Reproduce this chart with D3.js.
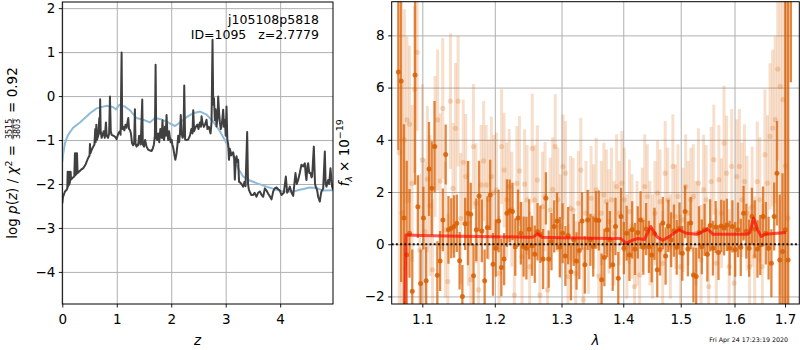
<!DOCTYPE html>
<html>
<head>
<meta charset="utf-8">
<script src="https://cdn.jsdelivr.net/npm/d3@7"></script>
<style>
  body { margin: 0; background: #fff; }
  text { font-family: "DejaVu Sans", sans-serif; fill: #000; white-space: pre; }
</style>
</head>
<body>
<svg id="chart"></svg>
<script>
const width = 800;
const height = 350;

// ---- p(z) panel data ----
const zTicks = [0, 1, 2, 3, 4];
const pzTicks = [-4, -3, -2, -1, 0, 1, 2];
// [z, log p(z)] for the dark curve
const pzCurve = [
  [0.000,-2.44],[0.012,-2.30],[0.049,-2.17],[0.080,-2.13],[0.092,-2.10],[0.098,-1.72],[0.104,-2.06],[0.122,-1.72],
  [0.128,-2.02],[0.141,-1.95],[0.153,-1.72],[0.160,-1.90],[0.190,-1.86],[0.220,-1.83],[0.232,-1.30],[0.240,-1.80],
  [0.251,-1.30],[0.258,-1.78],[0.270,-1.30],[0.281,-1.75],[0.306,-1.72],[0.340,-1.68],[0.385,-1.64],[0.430,-1.55],
  [0.470,-1.42],[0.500,-1.35],[0.508,-1.09],[0.518,-1.30],[0.540,-1.22],[0.569,-1.15],[0.590,-1.10],[0.605,-0.75],
  [0.612,-1.05],[0.625,-0.65],[0.635,-1.00],[0.660,-0.90],[0.680,-0.50],[0.688,-0.85],[0.695,-0.07],[0.705,-0.80],
  [0.722,-0.95],[0.740,-0.88],[0.760,-0.80],[0.780,-0.95],[0.801,-0.60],[0.815,-0.90],[0.840,-0.95],[0.860,-0.85],
  [0.875,-0.01],[0.890,-0.80],[0.905,-0.88],[0.935,-0.90],[0.966,-0.92],[0.997,-0.98],[1.028,-0.85],[1.055,-0.80],
  [1.070,-0.88],[1.089,0.99],[1.100,-0.75],[1.120,-0.70],[1.140,-0.78],[1.160,-0.65],[1.180,-0.72],[1.211,-0.50],
  [1.225,-0.75],[1.242,-0.77],[1.260,-0.85],[1.280,-1.07],[1.300,-1.12],[1.320,-1.05],[1.333,-0.30],[1.345,-1.10],
  [1.364,-1.15],[1.380,-1.10],[1.394,-1.12],[1.410,-0.90],[1.430,-1.05],[1.440,-1.10],[1.468,-0.08],[1.478,-1.10],
  [1.500,-1.15],[1.520,-1.00],[1.547,-1.15],[1.578,-1.22],[1.610,-1.24],[1.639,-1.25],[1.660,-1.20],[1.682,-1.10],
  [1.700,-0.90],[1.713,0.71],[1.725,-0.95],[1.743,-1.00],[1.760,-0.85],[1.780,-1.05],[1.800,-0.75],[1.823,-0.95],
  [1.840,-0.55],[1.853,-0.95],[1.870,-1.00],[1.884,-0.70],[1.900,-0.90],[1.914,-0.43],[1.930,-0.85],[1.945,-1.00],
  [1.960,-0.80],[1.976,-0.95],[1.990,-1.05],[2.006,-0.99],[2.020,-1.10],[2.040,-1.20],[2.060,-1.35],[2.075,-1.45],
  [2.098,-1.30],[2.115,-1.10],[2.128,-0.90],[2.145,-1.05],[2.160,-0.85],[2.175,-0.43],[2.190,-0.85],[2.208,-0.95],
  [2.225,-0.90],[2.239,0.24],[2.255,-0.99],[2.281,-1.00],[2.310,-0.99],[2.343,-0.90],[2.370,-0.75],[2.390,-0.85],
  [2.404,-0.32],[2.420,-0.80],[2.450,-0.70],[2.480,-0.65],[2.500,-0.75],[2.526,-0.60],[2.545,-0.70],[2.557,-0.46],
  [2.575,-0.62],[2.600,-0.70],[2.620,-0.65],[2.648,-0.54],[2.665,-0.75],[2.690,-0.70],[2.722,-0.85],[2.740,-0.60],
  [2.758,1.28],[2.771,-0.20],[2.785,-0.05],[2.801,-0.55],[2.815,-0.30],[2.832,-0.69],[2.850,-0.50],[2.862,-0.01],
  [2.880,-0.40],[2.893,-0.60],[2.910,-0.75],[2.924,-0.69],[2.940,-0.50],[2.954,-0.31],[2.970,-0.70],[2.985,-0.55],
  [3.000,-0.90],[3.015,-0.24],[3.030,-0.99],[3.046,-1.10],[3.060,-1.45],[3.076,-1.20],[3.100,-1.35],[3.120,-1.30],
  [3.138,-1.28],[3.155,-1.40],[3.168,-1.90],[3.185,-1.45],[3.199,-1.37],[3.215,-1.50],[3.229,-1.45],[3.245,-1.95],
  [3.260,-1.96],[3.290,-2.00],[3.321,-2.06],[3.345,-1.95],[3.364,-2.05],[3.394,-0.82],[3.410,-2.00],[3.425,-2.13],
  [3.450,-2.20],[3.470,-2.25],[3.505,-2.25],[3.530,-2.20],[3.566,-2.29],[3.595,-2.20],[3.627,-2.17],[3.660,-2.25],
  [3.688,-2.29],[3.719,-2.10],[3.750,-2.15],[3.780,-2.22],[3.810,-2.28],[3.841,-2.35],[3.872,-2.17],[3.900,-2.10],
  [3.933,-2.08],[3.964,-2.12],[3.994,-2.15],[4.024,-2.25],[4.067,-2.20],[4.104,-1.83],[4.128,-2.20],[4.150,-2.15],
  [4.177,-2.06],[4.210,-2.20],[4.239,-2.27],[4.281,-1.75],[4.305,-2.00],[4.330,-1.91],[4.360,-1.75],[4.391,-1.56],
  [4.420,-1.60],[4.453,-1.53],[4.470,-1.80],[4.483,-1.91],[4.500,-1.60],[4.514,-1.53],[4.535,-1.75],[4.557,-1.75],
  [4.575,-1.85],[4.587,-1.83],[4.618,-1.15],[4.640,-2.00],[4.654,-2.06],[4.680,-2.15],[4.697,-2.29],[4.728,-2.40],
  [4.745,-2.25],[4.758,-2.17],[4.790,-2.10],[4.820,-1.26],[4.835,-2.00],[4.850,-2.06],[4.881,-1.91],[4.900,-2.00],
  [4.924,-1.64],[4.940,-1.90],[4.954,-2.06],[4.972,-2.13]
];
// [z, log p(z)] for the smooth blue curve
const priorCurve = [
  [0,-1.50],[0.018,-1.30],[0.049,-1.07],[0.100,-0.90],[0.141,-0.82],[0.200,-0.72],[0.324,-0.60],[0.440,-0.47],
  [0.508,-0.39],[0.630,-0.28],[0.816,-0.22],[0.930,-0.25],[0.985,-0.30],[1.046,-0.20],[1.150,-0.24],[1.240,-0.32],
  [1.364,-0.50],[1.486,-0.54],[1.609,-0.60],[1.700,-0.50],[1.792,-0.52],[1.914,-0.58],[2.067,-0.68],[2.160,-0.60],
  [2.281,-0.48],[2.404,-0.39],[2.526,-0.35],[2.648,-0.42],[2.771,-0.58],[2.893,-0.80],[3.015,-1.07],[3.138,-1.37],
  [3.229,-1.65],[3.321,-1.83],[3.443,-1.92],[3.566,-1.98],[3.749,-2.06],[3.933,-2.13],[4.055,-2.17],[4.239,-2.17],
  [4.361,-2.13],[4.544,-2.08],[4.667,-2.09],[4.789,-2.15],[4.972,-2.14]
];

// ---- spectrum panel data ----
const lamTicks = [1.1, 1.2, 1.3, 1.4, 1.5, 1.6, 1.7];
const fluxTicks = [-2, 0, 2, 4, 6, 8];
// wavelength span of each sampled spectrum (evenly spaced bins in log lambda)
const specLamRange = [1.0688, 1.712];
// [flux, error] per bin, main spectrum
const specPts = [
  [6.6,3.0],[6.25,7.7],[1.0,3.6],[-0.4,3.6],[0.42,1.7],[-1.8,1.6],[6.48,4.2],[1.44,1.2],[-1.5,1.3],[1.0,1.2],
  [-1.4,1.3],[2.88,1.8],[2.14,1.8],[3.74,1.75],[-1.19,1.3],[-0.64,1.15],[0.93,1.2],[3.44,1.15],[0.55,1.3],[0.61,1.15],
  [0.68,1.2],[0.80,1.1],[-0.63,1.1],[-2.0,1.2],[0.78,1.0],[1.19,2.0],[1.15,1.2],[-1.21,1.2],[0.55,1.2],[1.85,1.35],
  [0.51,1.2],[-1.4,1.2],[0.64,1.2],[1.89,1.35],[-0.77,1.2],[-0.15,1.1],[0.89,1.2],[-0.89,1.1],[-0.57,1.0],[1.19,1.3],
  [1.28,1.2],[1.25,1.1],[-0.11,1.1],[1.0,1.1],[0.42,1.2],[-0.09,1.15],[-0.15,1.2],[0.57,1.15],[-0.06,1.15],[-0.38,1.1],
  [0.48,1.1],[0.38,1.1],[-0.57,1.15],[1.76,1.0],[-0.57,1.1],[0.1,1.1],[0.68,1.0],[0.89,1.1],[-0.11,1.15],[0.42,1.15],
  [-0.45,1.15],[0.33,1.1],[-1.05,1.1],[0.17,1.0],[-0.64,1.1],[-0.24,1.1],[0.89,1.1],[-0.79,1.1],[0.93,1.15],[0.17,1.0],
  [-0.09,1.15],[0.93,1.1],[0.91,1.15],[-1.36,1.0],[-0.51,1.1],[0.55,1.05],[0.17,1.1],[-0.79,1.0],[0.68,1.1],[-1.30,1.0],
  [1.06,1.1],[-0.15,1.0],[0.42,1.05],[-0.41,1.0],[0.55,1.1],[-0.18,1.0],[0.45,1.0],[0.93,1.1],[-0.12,1.05],[0.58,1.0],
  [-0.10,1.0],[-0.41,1.05],[0.40,1.0],[-0.98,1.05],[-0.20,1.0],[0.81,1.0],[-0.45,1.1],[0.70,1.0],[0.17,1.05],[0.52,1.0],
  [-0.12,1.05],[0.60,1.0],[-0.35,1.05],[1.25,1.0],[-0.18,1.05],[0.81,1.0],[-1.18,1.05],[-1.24,1.1],[0.45,1.0],[-0.10,1.05],
  [0.55,1.0],[-0.38,1.05],[0.72,1.0],[-0.15,1.05],[0.66,1.0],[-0.32,1.05],[0.70,1.0],[0.62,1.05],[0.74,1.0],[-0.15,1.05],
  [0.68,1.0],[-0.20,1.05],[0.55,1.05],[-0.12,1.1],[1.19,1.05],[0.50,1.05],[-0.15,1.1],[1.06,1.1],[0.58,1.1],[-0.18,1.1],
  [-0.03,1.15],[1.06,1.15],[0.42,1.2],[-0.15,1.2],[-0.73,1.3],[1.06,1.3],[2.72,2.0],[-0.60,2.5],[-0.28,3.0],[0.55,12],
  [-0.6,12],[9.5,3.3]
];
const fadedLamRange = [1.070, 1.706];
// [flux, error] per bin, second (faded) spectrum
const fadedPts = [
  [3.5,6],[1.2,5],[4.0,5],
  [4.76,3.2],[4.6,3.0],[2.33,3.0],[5.93,3.2],[7.35,3.0],[-0.22,2.9],[3.23,2.9],[0.48,2.8],[2.49,2.8],[1.48,2.7],
  [-0.98,2.7],[3.74,2.7],[4.76,2.7],[2.42,2.6],[5.2,2.7],[0.55,2.6],[-1.43,2.6],[5.48,2.6],[2.14,2.5],[4.44,2.5],
  [5.48,2.5],[0.99,2.5],[3.14,2.4],[2.59,2.4],[0.80,2.4],[-1.36,2.4],[3.74,2.4],[1.57,2.3],[-1.75,2.3],[2.27,2.3],
  [3.19,2.3],[2.27,2.3],[1.70,2.3],[2.59,2.3],[1.98,2.2],[2.08,2.2],[-1.12,2.2],[3.74,2.2],[2.84,2.2],[1.70,2.2],
  [2.21,2.2],[1.34,2.2],[-1.95,2.2],[2.33,2.2],[2.81,2.1],[-0.47,2.1],[2.30,2.1],[1.70,2.1],[-0.86,2.1],[3.67,2.1],
  [1.70,2.1],[2.46,2.1],[-1.95,2.1],[1.44,2.1],[1.82,2.1],[-1.75,2.0],[1.31,2.0],[2.10,2.0],[3.74,2.0],[1.70,2.0],
  [0.68,2.0],[2.97,2.0],[2.72,2.0],[-1.24,2.0],[1.38,2.0],[1.31,2.0],[-1.12,2.0],[1.57,2.0],[2.84,2.0],[-2.13,2.0],
  [1.19,2.0],[0.10,2.0],[1.76,2.0],[1.06,2.0],[2.08,2.0],[-1.22,2.0],[1.19,2.0],[1.89,2.0],[1.63,2.0],[0.87,2.0],
  [1.70,2.0],[0.42,2.0],[2.21,2.0],[1.19,2.0],[2.34,2.0],[1.70,2.0],[-0.09,2.0],[1.25,2.0],[0.68,2.0],[-1.62,2.0],
  [0.42,2.0],[-1.18,2.0],[0.93,2.0],[2.21,2.0],[1.83,2.0],[0.42,2.0],[-0.09,2.0],[1.19,2.0],[1.96,2.0],[1.63,2.0],
  [-0.73,2.0],[2.72,2.0],[1.70,2.0],[-0.09,2.0],[2.98,2.0],[1.06,2.0],[1.83,2.0],[-0.86,2.0],[0.93,2.0],[2.21,2.0],
  [1.19,2.0],[1.70,2.0],[1.83,2.0],[0.42,2.0],[2.34,2.1],[-0.60,2.1],[2.09,2.1],[1.70,2.1],[-1.62,2.1],[2.40,2.1],
  [3.24,2.1],[-0.73,2.1],[2.47,2.1],[1.19,2.1],[3.87,2.2],[2.72,2.2],[-0.86,2.2],[2.98,2.2],[-1.49,2.2],[2.59,2.2],
  [2.98,2.2],[1.70,2.2],[2.40,2.2],[1.19,2.2],[-0.86,2.3],[1.44,2.3],[-0.47,2.3],[2.40,2.3],[1.70,2.4],[-0.86,2.4],
  [3.43,2.5],[2.34,2.6],[4.13,2.8],[4.45,3.0],[4.77,3.2],[6.71,3.5],[6.05,8],[5.54,8],[3.0,10],[1.0,10]
];
const modelLam = [1.0770,1.0785,1.10,1.15,1.20,1.25,1.257,1.263,1.27,1.30,1.35,1.396,1.405,1.415,1.425,1.436,
  1.447,1.458,1.468,1.48,1.497,1.51,1.53,1.549,1.56,1.60,1.625,1.630,1.637,1.645,1.652,1.66,1.702];
const modelFlux = [-3.0,0.35,0.33,0.31,0.29,0.27,0.28,0.40,0.27,0.25,0.23,0.22,0.03,0.15,0.22,0.18,
  0.68,0.28,0.15,0.30,0.55,0.42,0.38,0.58,0.38,0.38,0.38,0.45,1.0,0.55,0.30,0.38,0.45];

const fileName = "j105108p5818";
const fitInfo = "ID=1095\u00a0\u00a0\u00a0z=2.7779";
const stamp = "Fri Apr 24 17:23:19 2020";

const svg = d3.select("#chart").attr("width", width).attr("height", height);
const defs = svg.append("defs");
const FS = 13.5;

function styleAxis(g) {
  g.select(".domain").remove();
  g.selectAll(".tick line").attr("stroke", "#000").attr("stroke-width", 0.9);
  g.selectAll(".tick text").attr("font-size", FS).attr("font-family", "DejaVu Sans").attr("fill", "#000");
}
function gridAxis(g) {
  g.select(".domain").remove();
  g.selectAll(".tick line").attr("stroke", "#b0b0b0").attr("stroke-width", 1);
}

// ================= left panel: p(z) =================
const L = { x0: 62.3, x1: 333, y0: 2, y1: 304 };
const xZ = d3.scaleLinear().domain([0, 4.97]).range([L.x0, L.x1]);
const yP = d3.scaleLinear().domain([-4.73, 2.14]).range([L.y1, L.y0]);

defs.append("clipPath").attr("id", "clipL")
  .append("rect").attr("x", L.x0).attr("y", L.y0).attr("width", L.x1 - L.x0).attr("height", L.y1 - L.y0);

const left = svg.append("g");
left.append("g").attr("transform", `translate(0,${L.y1})`)
  .call(d3.axisBottom(xZ).tickValues(zTicks).tickSize(-(L.y1 - L.y0)).tickFormat(""))
  .call(gridAxis);
left.append("g").attr("transform", `translate(${L.x0},0)`)
  .call(d3.axisLeft(yP).tickValues(pzTicks).tickSize(-(L.x1 - L.x0)).tickFormat(""))
  .call(gridAxis);

const pzLine = d3.line().x((d) => xZ(d[0])).y((d) => yP(d[1]));
const curves = left.append("g").attr("clip-path", "url(#clipL)");
curves.append("path").datum(priorCurve).attr("d", pzLine)
  .attr("fill", "none").attr("stroke", "#8fbbd9").attr("stroke-width", 2);
curves.append("path").datum(pzCurve).attr("d", pzLine)
  .attr("fill", "none").attr("stroke", "#404040").attr("stroke-width", 2).attr("stroke-linejoin", "round");

left.append("g").attr("transform", `translate(0,${L.y1})`)
  .call(d3.axisBottom(xZ).tickValues(zTicks).tickSize(3.5).tickPadding(6.5).tickFormat(d3.format("d")))
  .call(styleAxis);
left.append("g").attr("transform", `translate(${L.x0},0)`)
  .call(d3.axisLeft(yP).tickValues(pzTicks).tickSize(3.5).tickPadding(3.5).tickFormat(d3.format("d")))
  .call(styleAxis);
left.append("rect").attr("x", L.x0).attr("y", L.y0).attr("width", L.x1 - L.x0).attr("height", L.y1 - L.y0)
  .attr("fill", "none").attr("stroke", "#000").attr("stroke-width", 1);

left.append("text").attr("x", 319).attr("y", 24).attr("text-anchor", "end").attr("font-size", 12.5).text(fileName);
left.append("text").attr("x", 319).attr("y", 39).attr("text-anchor", "end").attr("font-size", 12.5).text(fitInfo);

left.append("text").attr("x", (L.x0 + L.x1) / 2).attr("y", 345).attr("text-anchor", "middle")
  .attr("font-size", FS).attr("font-style", "italic").text("z");

// y label with the chi2 fraction
const yl = left.append("g");
const t1 = yl.append("text").attr("font-size", FS);
t1.append("tspan").text("log\u00a0");
t1.append("tspan").attr("font-style", "italic").text("p");
t1.append("tspan").text("(");
t1.append("tspan").attr("font-style", "italic").text("z");
t1.append("tspan").text(")\u00a0/\u00a0");
t1.append("tspan").attr("font-style", "italic").text("\u03c7");
t1.append("tspan").attr("font-size", 9.5).attr("dy", -5.5).text("2");
t1.append("tspan").attr("dy", 5.5).text("\u00a0=\u00a0");
const w1 = t1.node().getComputedTextLength() + 1;
const num = yl.append("text").attr("font-size", 8).attr("text-anchor", "middle").attr("y", -5.3).text("3515");
const den = yl.append("text").attr("font-size", 8).attr("text-anchor", "middle").attr("y", 2.6).text("3803");
const fw = Math.max(num.node().getComputedTextLength(), den.node().getComputedTextLength()) + 1;
num.attr("x", w1 + fw / 2);
den.attr("x", w1 + fw / 2);
yl.append("line").attr("x1", w1).attr("x2", w1 + fw).attr("y1", -4.1).attr("y2", -4.1)
  .attr("stroke", "#000").attr("stroke-width", 0.6);
const t2 = yl.append("text").attr("font-size", FS).attr("x", w1 + fw + 1).text("\u00a0=\u00a00.92");
const total = w1 + fw + 1 + t2.node().getComputedTextLength();
yl.attr("transform", `translate(17,${(L.y0 + L.y1) / 2}) rotate(-90) translate(${-total / 2},0)`);

// ================= right panel: spectrum =================
const R = { x0: 391.7, x1: 799.3, y0: 1.7, y1: 304 };
const xL = d3.scaleLog().domain([1.0603, 1.7294]).range([R.x0, R.x1]);
const yF = d3.scaleLinear().domain([-2.29, 9.29]).range([R.y1, R.y0]);

defs.append("clipPath").attr("id", "clipR")
  .append("rect").attr("x", R.x0).attr("y", R.y0).attr("width", R.x1 - R.x0).attr("height", R.y1 - R.y0);

const right = svg.append("g");
right.append("g").attr("transform", `translate(0,${R.y1})`)
  .call(d3.axisBottom(xL).tickValues(lamTicks).tickSize(-(R.y1 - R.y0)).tickFormat(""))
  .call(gridAxis);
right.append("g").attr("transform", `translate(${R.x0},0)`)
  .call(d3.axisLeft(yF).tickValues(fluxTicks).tickSize(-(R.x1 - R.x0)).tickFormat(""))
  .call(gridAxis);

// bins are evenly spaced in log wavelength
function binLam(range, n) {
  const step = Math.log(range[1] / range[0]) / (n - 1);
  return (i) => range[0] * Math.exp(i * step);
}
const fadedLam = binLam(fadedLamRange, fadedPts.length);
const specLam = binLam(specLamRange, specPts.length);
const fadedData = fadedPts.map((d, i) => ({ lam: fadedLam(i), f: d[0], e: d[1] }));
const specData = specPts.map((d, i) => ({ lam: specLam(i), f: d[0], e: d[1] }));

const plot = right.append("g").attr("clip-path", "url(#clipR)");
const orange = "#d95f02";

const faded = plot.append("g");
faded.selectAll("line").data(fadedData).enter().append("line")
  .attr("x1", (d) => xL(d.lam)).attr("x2", (d) => xL(d.lam))
  .attr("y1", (d) => yF(d.f - d.e)).attr("y2", (d) => yF(d.f + d.e))
  .attr("stroke", orange).attr("stroke-opacity", 0.2).attr("stroke-width", 3);
faded.selectAll("circle").data(fadedData).enter().append("circle")
  .attr("cx", (d) => xL(d.lam)).attr("cy", (d) => yF(d.f)).attr("r", 2.6)
  .attr("fill", orange).attr("fill-opacity", 0.22);

const spec = plot.append("g");
spec.selectAll("line").data(specData).enter().append("line")
  .attr("x1", (d) => xL(d.lam)).attr("x2", (d) => xL(d.lam))
  .attr("y1", (d) => yF(d.f - d.e)).attr("y2", (d) => yF(d.f + d.e))
  .attr("stroke", orange).attr("stroke-opacity", 0.75).attr("stroke-width", 2.3);
spec.selectAll("circle").data(specData).enter().append("circle")
  .attr("cx", (d) => xL(d.lam)).attr("cy", (d) => yF(d.f)).attr("r", 2.5)
  .attr("fill", orange).attr("fill-opacity", 0.85);

const modelLine = d3.line().x((d) => xL(d[0])).y((d) => yF(d[1]));
plot.append("path").datum(modelLam.map((l, i) => [l, modelFlux[i]])).attr("d", modelLine)
  .attr("fill", "none").attr("stroke", "#ff0000").attr("stroke-opacity", 0.65).attr("stroke-width", 3)
  .attr("stroke-linejoin", "round");

plot.append("line").attr("x1", R.x0).attr("x2", R.x1).attr("y1", yF(0)).attr("y2", yF(0))
  .attr("stroke", "#111").attr("stroke-width", 2).attr("stroke-dasharray", "2,2.2");

right.append("g").attr("transform", `translate(0,${R.y1})`)
  .call(d3.axisBottom(xL).tickValues(lamTicks).tickSize(3.5).tickPadding(6.5).tickFormat(d3.format(".1f")))
  .call(styleAxis);
right.append("g").attr("transform", `translate(${R.x0},0)`)
  .call(d3.axisLeft(yF).tickValues(fluxTicks).tickSize(3.5).tickPadding(3.5).tickFormat(d3.format("d")))
  .call(styleAxis);
right.append("rect").attr("x", R.x0).attr("y", R.y0).attr("width", R.x1 - R.x0).attr("height", R.y1 - R.y0)
  .attr("fill", "none").attr("stroke", "#000").attr("stroke-width", 1);

right.append("text").attr("x", (R.x0 + R.x1) / 2).attr("y", 345).attr("text-anchor", "middle")
  .attr("font-size", FS).attr("font-style", "italic").text("\u03bb");

const fl = right.append("text").attr("font-size", FS).attr("text-anchor", "middle")
  .attr("transform", `translate(349,${(R.y0 + R.y1) / 2}) rotate(-90)`);
fl.append("tspan").attr("font-style", "italic").text("f");
fl.append("tspan").attr("font-style", "italic").attr("font-size", 9.5).attr("dy", 3).text("\u03bb");
fl.append("tspan").attr("dy", -3).text("\u00a0\u00d7\u00a010");
fl.append("tspan").attr("font-size", 9.5).attr("dy", -6).text("\u221219");

svg.append("text").attr("x", 788).attr("y", 342).attr("text-anchor", "end")
  .attr("font-size", 6.3).text(stamp);
</script>
</body>
</html>
